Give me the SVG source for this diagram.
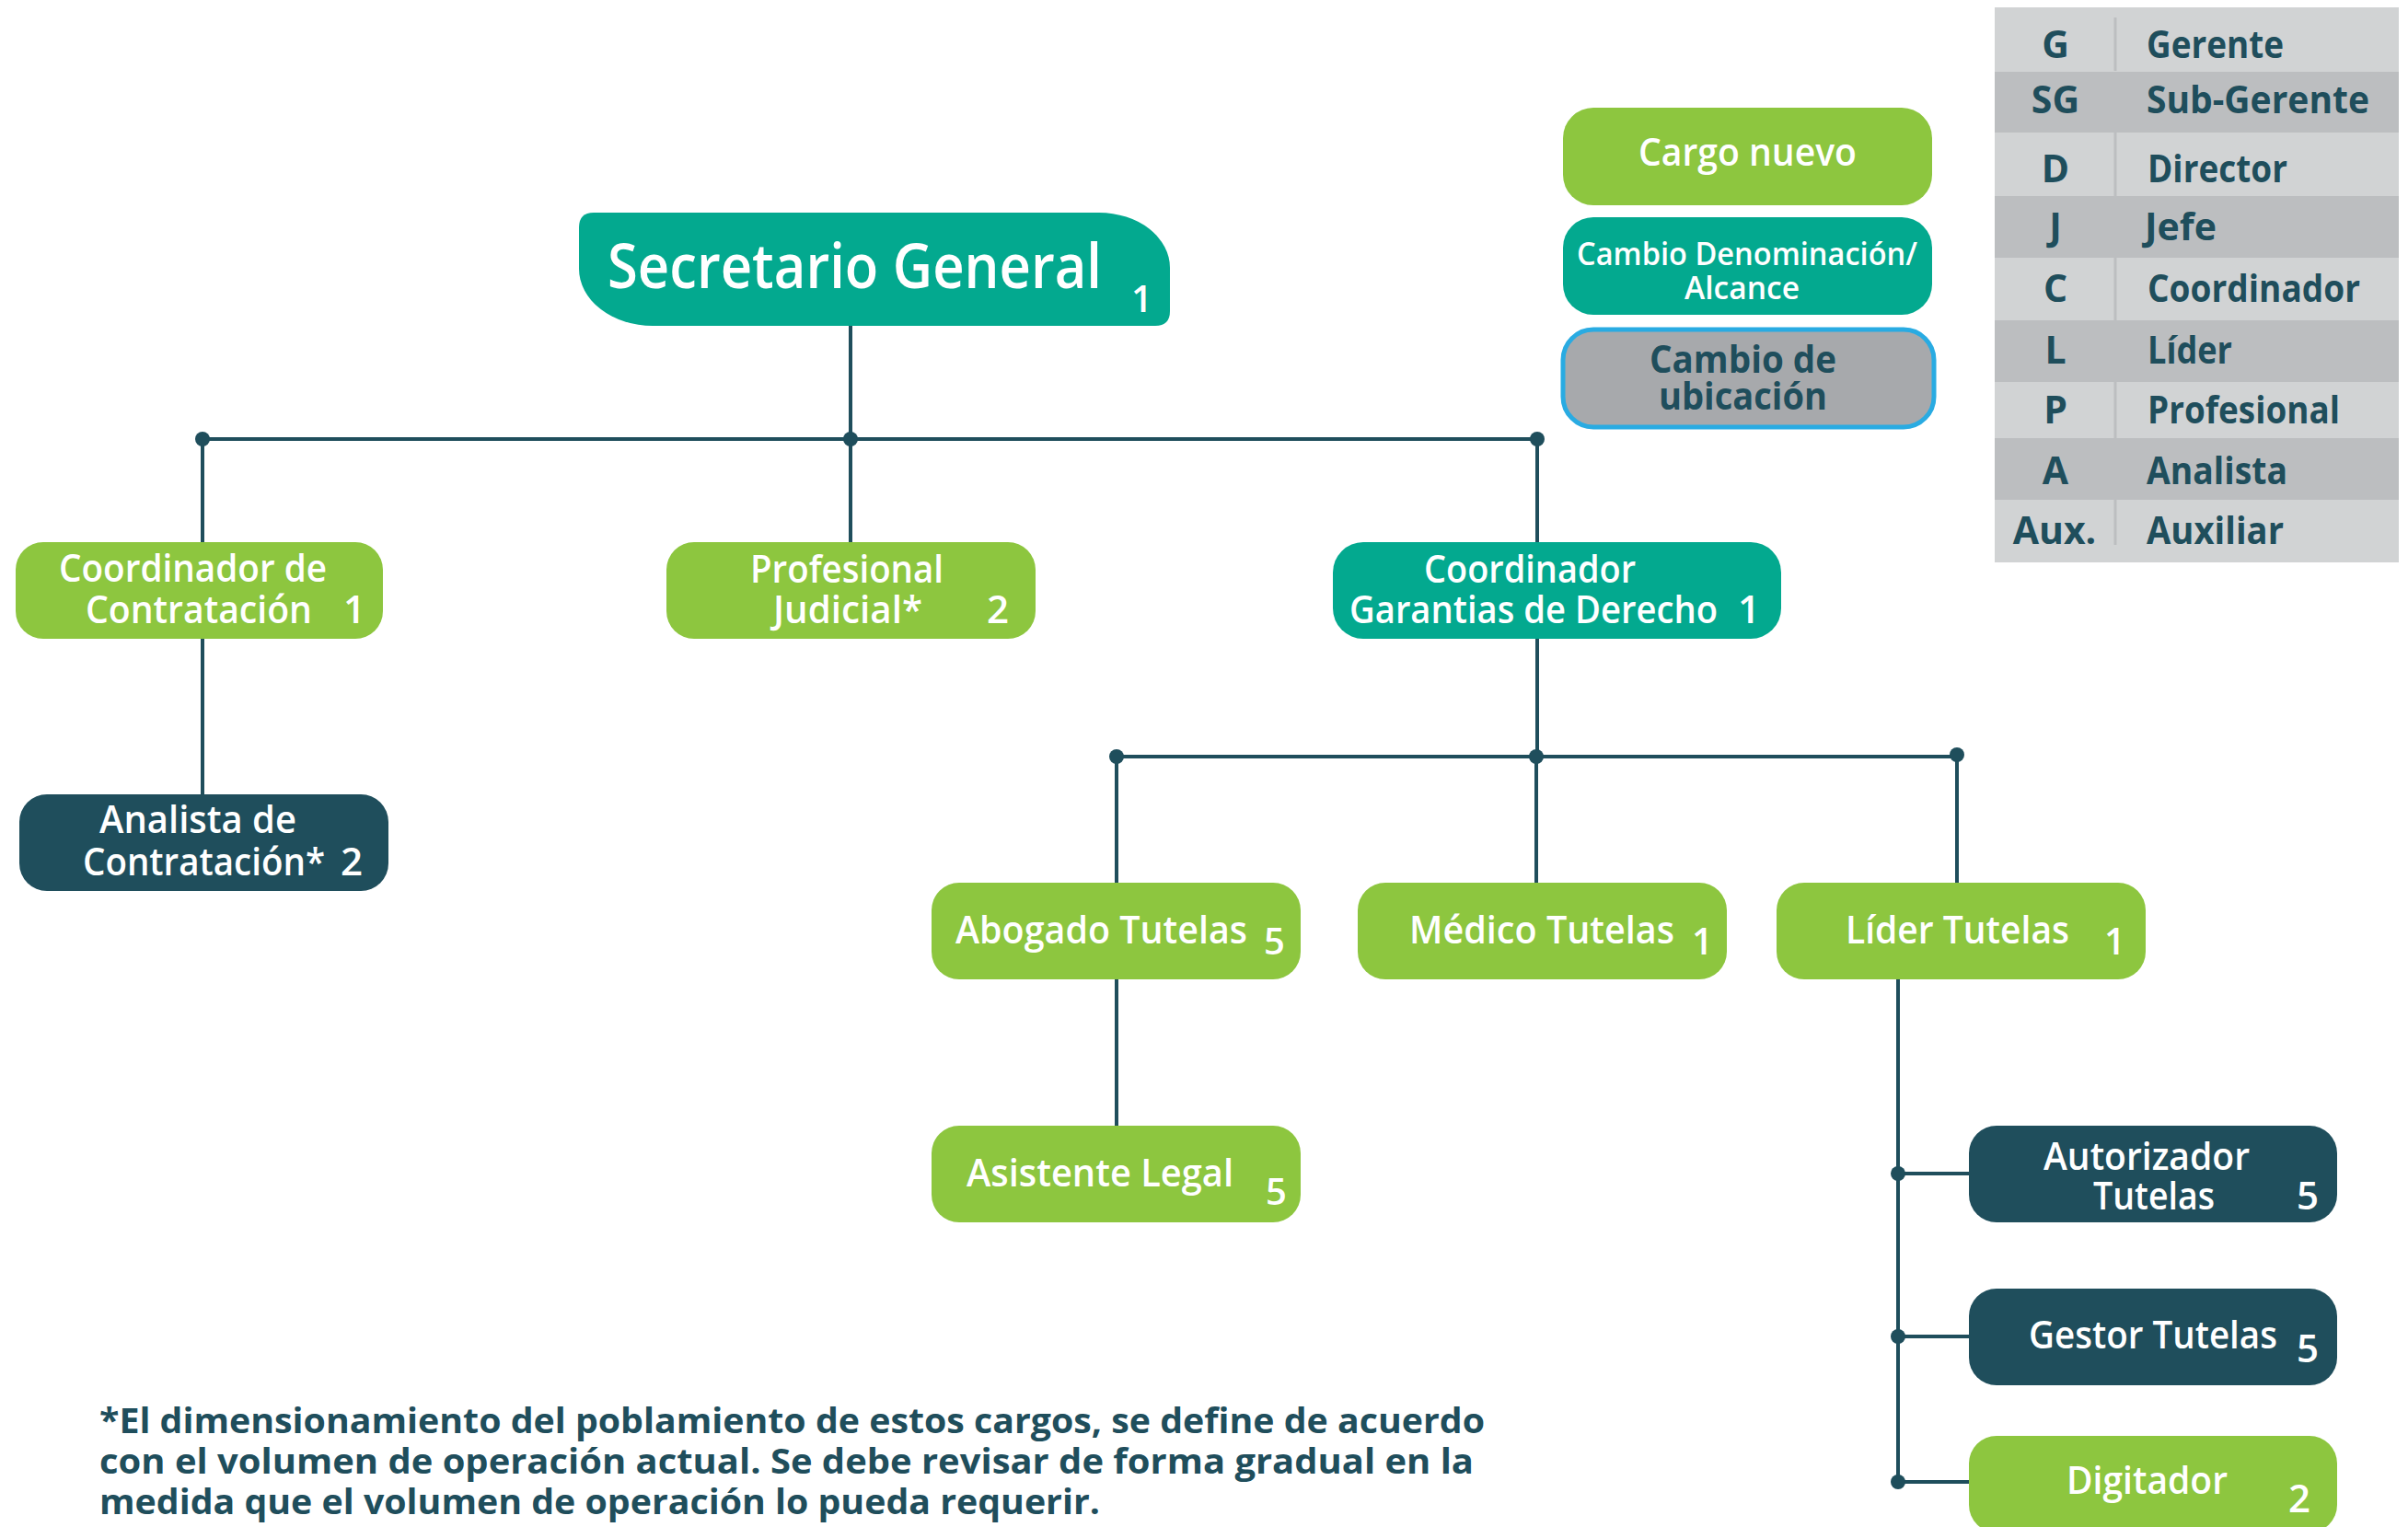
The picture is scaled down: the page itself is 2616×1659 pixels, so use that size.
<svg xmlns="http://www.w3.org/2000/svg" width="2616" height="1659" viewBox="0 0 2616 1659">
<style>
.green{fill:#8DC63F}
.teal{fill:#03A98F}
.dark{fill:#1F4E5C}
.t{font-family:"Open Sans","Noto Sans","Liberation Sans",sans-serif;font-weight:600;fill:#FFFFFF;font-size:42px}
.n{font-family:"Open Sans","Noto Sans","Liberation Sans",sans-serif;font-weight:600;fill:#FFFFFF;font-size:40px}
.lg{font-family:"Open Sans","Noto Sans","Liberation Sans",sans-serif;font-weight:700;fill:#1F4E5C;font-size:41px}
.fn{font-family:"Open Sans","Noto Sans","Liberation Sans",sans-serif;font-weight:700;fill:#1F4E5C;font-size:38px}
.ln{stroke:#1F4E5C;stroke-width:4;fill:none}
.dot{fill:#1F4E5C}
.rowL{fill:#D1D3D4}
.rowD{fill:#BCBEC0}
.div{stroke:#BCBEC0;stroke-width:3}
</style>
<rect width="2616" height="1659" fill="#FFFFFF"/>

<!-- Legend table -->
<g id="legend-table">
  <rect class="rowL" x="2167" y="8" width="439" height="70"/>
  <rect class="rowD" x="2167" y="78" width="439" height="66"/>
  <rect class="rowL" x="2167" y="144" width="439" height="69"/>
  <rect class="rowD" x="2167" y="213" width="439" height="67"/>
  <rect class="rowL" x="2167" y="280" width="439" height="68"/>
  <rect class="rowD" x="2167" y="348" width="439" height="67"/>
  <rect class="rowL" x="2167" y="415" width="439" height="61"/>
  <rect class="rowD" x="2167" y="476" width="439" height="67"/>
  <rect class="rowL" x="2167" y="543" width="439" height="68"/>
  <line class="div" x1="2298" y1="19" x2="2298" y2="77"/>
  <line class="div" x1="2298" y1="144" x2="2298" y2="213"/>
  <line class="div" x1="2298" y1="280" x2="2298" y2="348"/>
  <line class="div" x1="2298" y1="415" x2="2298" y2="476"/>
  <line class="div" x1="2298" y1="543" x2="2298" y2="592"/>
  <g text-anchor="middle">
    <text class="lg" x="2233" y="63">G</text>
    <text class="lg" x="2233" y="123">SG</text>
    <text class="lg" x="2233" y="198">D</text>
    <text class="lg" x="2233" y="261">J</text>
    <text class="lg" x="2233" y="328">C</text>
    <text class="lg" x="2233" y="395">L</text>
    <text class="lg" x="2233" y="460">P</text>
    <text class="lg" x="2233" y="526">A</text>
    <text class="lg" x="2232" y="591">Aux.</text>
  </g>
  <text class="lg" x="2332" y="63" textLength="149" lengthAdjust="spacingAndGlyphs">Gerente</text>
  <text class="lg" x="2332" y="123" textLength="242" lengthAdjust="spacingAndGlyphs">Sub-Gerente</text>
  <text class="lg" x="2333" y="198" textLength="152" lengthAdjust="spacingAndGlyphs">Director</text>
  <text class="lg" x="2330" y="261" textLength="78" lengthAdjust="spacingAndGlyphs">Jefe</text>
  <text class="lg" x="2333" y="328" textLength="231" lengthAdjust="spacingAndGlyphs">Coordinador</text>
  <text class="lg" x="2333" y="395" textLength="92" lengthAdjust="spacingAndGlyphs">Líder</text>
  <text class="lg" x="2333" y="460" textLength="209" lengthAdjust="spacingAndGlyphs">Profesional</text>
  <text class="lg" x="2332" y="526" textLength="153" lengthAdjust="spacingAndGlyphs">Analista</text>
  <text class="lg" x="2332" y="591" textLength="149" lengthAdjust="spacingAndGlyphs">Auxiliar</text>
</g>

<!-- Key boxes -->
<g id="key-cargo-nuevo">
  <rect class="green" x="1698" y="117" width="401" height="106" rx="33"/>
  <text class="t" x="1780" y="180" font-size="44" textLength="237" lengthAdjust="spacingAndGlyphs">Cargo nuevo</text>
</g>
<g id="key-cambio-denominacion">
  <rect class="teal" x="1698" y="236" width="401" height="106" rx="33"/>
  <text class="t" x="1713" y="288" style="font-size:35px" textLength="370" lengthAdjust="spacingAndGlyphs">Cambio Denominación/</text>
  <text class="t" x="1830" y="325" style="font-size:35px" textLength="125" lengthAdjust="spacingAndGlyphs">Alcance</text>
</g>
<g id="key-cambio-ubicacion">
  <rect x="1698" y="358" width="403" height="106" rx="33" fill="#A7A9AC" stroke="#29ABE2" stroke-width="5"/>
  <text class="lg" x="1792" y="405" textLength="203" lengthAdjust="spacingAndGlyphs">Cambio de</text>
  <text class="lg" x="1802" y="445" textLength="183" lengthAdjust="spacingAndGlyphs">ubicación</text>
</g>

<!-- Connectors -->
<g id="connectors">
  <line class="ln" x1="924" y1="354" x2="924" y2="589"/>
  <line class="ln" x1="220" y1="477" x2="1670" y2="477"/>
  <line class="ln" x1="220" y1="477" x2="220" y2="589"/>
  <line class="ln" x1="1670" y1="477" x2="1670" y2="589"/>
  <line class="ln" x1="220" y1="694" x2="220" y2="863"/>
  <line class="ln" x1="1670" y1="694" x2="1670" y2="822"/>
  <line class="ln" x1="1213" y1="822" x2="2126" y2="822"/>
  <line class="ln" x1="1213" y1="822" x2="1213" y2="959"/>
  <line class="ln" x1="1669" y1="822" x2="1669" y2="959"/>
  <line class="ln" x1="2126" y1="820" x2="2126" y2="959"/>
  <line class="ln" x1="1213" y1="1064" x2="1213" y2="1223"/>
  <line class="ln" x1="2062" y1="1064" x2="2062" y2="1610"/>
  <line class="ln" x1="2062" y1="1275" x2="2140" y2="1275"/>
  <line class="ln" x1="2062" y1="1452" x2="2140" y2="1452"/>
  <line class="ln" x1="2062" y1="1610" x2="2140" y2="1610"/>
  <circle class="dot" cx="220" cy="477" r="8"/>
  <circle class="dot" cx="924" cy="477" r="8"/>
  <circle class="dot" cx="1670" cy="477" r="8"/>
  <circle class="dot" cx="1213" cy="822" r="8"/>
  <circle class="dot" cx="1669" cy="822" r="8"/>
  <circle class="dot" cx="2126" cy="820" r="8"/>
  <circle class="dot" cx="2062" cy="1275" r="8"/>
  <circle class="dot" cx="2062" cy="1452" r="8"/>
  <circle class="dot" cx="2062" cy="1610" r="8"/>
</g>

<!-- Nodes -->
<g id="secretario-general">
  <path class="teal" d="M 645,231 L 1194,231 A 77 60 0 0 1 1271,291 L 1271,338 Q 1271,354 1255,354 L 709,354 A 80 62 0 0 1 629,292 L 629,247 Q 629,231 645,231 Z"/>
  <text class="t" x="660" y="313" style="font-size:67px" textLength="537" lengthAdjust="spacingAndGlyphs">Secretario General</text>
  <text class="n" x="1229" y="339">1</text>
</g>

<g id="coordinador-contratacion">
  <rect class="green" x="17" y="589" width="399" height="105" rx="30"/>
  <text class="t" x="64" y="632" textLength="291" lengthAdjust="spacingAndGlyphs">Coordinador de</text>
  <text class="t" x="93" y="677" textLength="246" lengthAdjust="spacingAndGlyphs">Contratación</text>
  <text class="t" x="373" y="677">1</text>
</g>

<g id="profesional-judicial">
  <rect class="green" x="724" y="589" width="401" height="105" rx="30"/>
  <text class="t" x="815" y="633" textLength="210" lengthAdjust="spacingAndGlyphs">Profesional</text>
  <text class="t" x="840" y="677" textLength="162" lengthAdjust="spacingAndGlyphs">Judicial*</text>
  <text class="t" x="1072" y="677">2</text>
</g>

<g id="coordinador-garantias">
  <rect class="teal" x="1448" y="589" width="487" height="105" rx="33"/>
  <text class="t" x="1547" y="633" textLength="230" lengthAdjust="spacingAndGlyphs">Coordinador</text>
  <text class="t" x="1466" y="677" textLength="400" lengthAdjust="spacingAndGlyphs">Garantias de Derecho</text>
  <text class="t" x="1888" y="677">1</text>
</g>

<g id="analista-contratacion">
  <rect class="dark" x="21" y="863" width="401" height="105" rx="30"/>
  <text class="t" x="108" y="905" textLength="214" lengthAdjust="spacingAndGlyphs">Analista de</text>
  <text class="t" x="90" y="951" textLength="263" lengthAdjust="spacingAndGlyphs">Contratación*</text>
  <text class="t" x="370" y="951">2</text>
</g>

<g id="abogado-tutelas">
  <rect class="green" x="1012" y="959" width="401" height="105" rx="30"/>
  <text class="t" x="1038" y="1025" textLength="317" lengthAdjust="spacingAndGlyphs">Abogado Tutelas</text>
  <text class="n" x="1373" y="1037">5</text>
</g>

<g id="medico-tutelas">
  <rect class="green" x="1475" y="959" width="401" height="105" rx="30"/>
  <text class="t" x="1531" y="1025" textLength="288" lengthAdjust="spacingAndGlyphs">Médico Tutelas</text>
  <text class="n" x="1838" y="1037">1</text>
</g>

<g id="lider-tutelas">
  <rect class="green" x="1930" y="959" width="401" height="105" rx="30"/>
  <text class="t" x="2005" y="1025" textLength="243" lengthAdjust="spacingAndGlyphs">Líder Tutelas</text>
  <text class="n" x="2286" y="1037">1</text>
</g>

<g id="asistente-legal">
  <rect class="green" x="1012" y="1223" width="401" height="105" rx="30"/>
  <text class="t" x="1050" y="1289" textLength="290" lengthAdjust="spacingAndGlyphs">Asistente Legal</text>
  <text class="n" x="1375" y="1309">5</text>
</g>

<g id="autorizador-tutelas">
  <rect class="dark" x="2139" y="1223" width="400" height="105" rx="30"/>
  <text class="t" x="2220" y="1271" textLength="224" lengthAdjust="spacingAndGlyphs">Autorizador</text>
  <text class="t" x="2274" y="1314" textLength="132" lengthAdjust="spacingAndGlyphs">Tutelas</text>
  <text class="t" x="2495" y="1314">5</text>
</g>

<g id="gestor-tutelas">
  <rect class="dark" x="2139" y="1400" width="400" height="105" rx="30"/>
  <text class="t" x="2204" y="1465" textLength="270" lengthAdjust="spacingAndGlyphs">Gestor Tutelas</text>
  <text class="t" x="2495" y="1480">5</text>
</g>

<g id="digitador">
  <rect class="green" x="2139" y="1560" width="400" height="105" rx="30"/>
  <text class="t" x="2245" y="1623" textLength="175" lengthAdjust="spacingAndGlyphs">Digitador</text>
  <text class="t" x="2486" y="1643">2</text>
</g>

<!-- Footnote -->
<g id="footnote">
  <text class="fn" x="108" y="1557" textLength="1505" lengthAdjust="spacingAndGlyphs">*El dimensionamiento del poblamiento de estos cargos, se define de acuerdo</text>
  <text class="fn" x="108" y="1601" textLength="1493" lengthAdjust="spacingAndGlyphs">con el volumen de operación actual. Se debe revisar de forma gradual en la</text>
  <text class="fn" x="108" y="1645" textLength="1087" lengthAdjust="spacingAndGlyphs">medida que el volumen de operación lo pueda requerir.</text>
</g>
</svg>
